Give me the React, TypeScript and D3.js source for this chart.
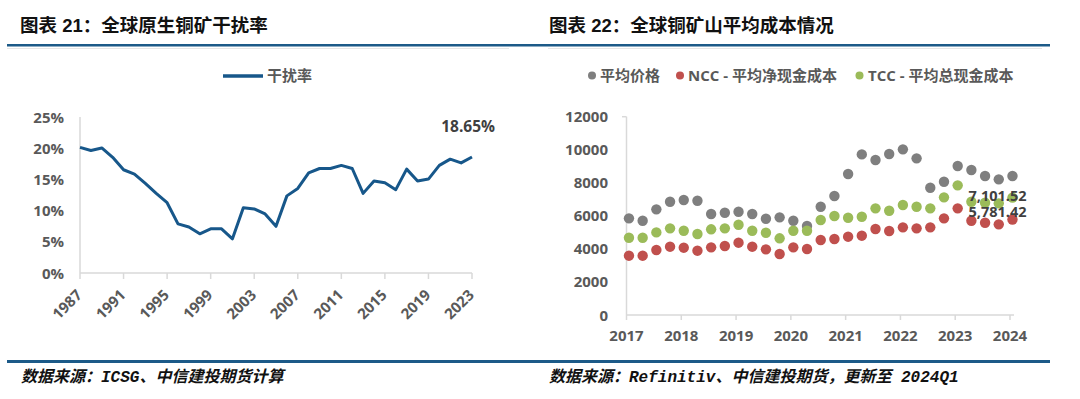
import React from "react";
import * as d3 from "d3";

// 图表 21：全球原生铜矿干扰率 (%)
const rateYears = d3.range(1987, 2024);
const interferenceRate = [
  20.2, 19.7, 20.1, 18.6, 16.6, 15.9, 14.4, 12.8, 11.3, 7.9, 7.4, 6.3, 7.1,
  7.1, 5.5, 10.5, 10.3, 9.5, 7.5, 12.4, 13.6, 16.1, 16.8, 16.8, 17.3, 16.8,
  12.8, 14.8, 14.5, 13.4, 16.7, 14.8, 15.1, 17.3, 18.3, 17.7, 18.65,
];
const rateTicks = [0, 5, 10, 15, 20, 25];
const rateYearTicks = [1987, 1991, 1995, 1999, 2003, 2007, 2011, 2015, 2019, 2023];

// 图表 22：全球铜矿山平均成本情况 (quarterly, 2017Q1 - 2024Q1)
const quarters = d3.range(2017, 2025).flatMap((y) => [1, 2, 3, 4].map((q) => ({ y, q }))).slice(0, 29);
const avgPrice = [
  5850, 5705, 6394, 6855, 6957, 6915, 6110, 6190, 6250, 6110, 5826, 5910, 5705,
  5384, 6552, 7200, 8530, 9720, 9377, 9740, 10024, 9479, 7700, 8065, 9014, 8772,
  8409, 8209, 8409,
];
const ncc = [
  3590, 3590, 3932, 4134, 4073, 3892, 4093, 4174, 4376, 4134, 3973, 3690, 4093,
  3993, 4537, 4598, 4739, 4800, 5203, 5082, 5303, 5243, 5303, 5850, 6455, 5705,
  5585, 5485, 5781.42,
];
const tcc = [
  4677, 4677, 5000, 5245, 5100, 4900, 5185, 5245, 5463, 5100, 4980, 4640, 5100,
  5100, 5747, 5990, 5887, 5947, 6455, 6310, 6655, 6552, 6455, 7120, 7846, 6855,
  6794, 6757, 7101.52,
];
const costTicks = [0, 2000, 4000, 6000, 8000, 10000, 12000];
const costYearTicks = [2017, 2018, 2019, 2020, 2021, 2022, 2023, 2024];

const BLUE = "#1c5a88";
const LINE = "#17578a";
const AXIS = "#d9d9d9";
const LABEL = "#595959";
const FONT = "'Open Sans', 'Noto Sans CJK SC', sans-serif";
const TITLE_FONT = "Arial, 'Liberation Sans', 'Noto Sans CJK SC', sans-serif";
const FOOT_FONT = "'Liberation Mono', 'Noto Sans CJK SC', monospace";

const costSeries = [
  { name: "平均价格", color: "#7f7f7f", values: avgPrice },
  { name: "NCC - 平均净现金成本", color: "#c0504d", values: ncc },
  { name: "TCC - 平均总现金成本", color: "#9bbb59", values: tcc },
];

const App = () => {
  // left chart scales
  const xL = d3.scaleLinear().domain([1987, 2023]).range([80, 472]);
  const yL = d3.scaleLinear().domain([0, 25]).range([273, 117.5]);
  const line = d3
    .line<number>()
    .x((_, i) => xL(rateYears[i]))
    .y((d) => yL(d));
  const lastRate = interferenceRate[interferenceRate.length - 1];

  // right chart scales
  const xR = d3.scaleLinear().domain([2017, 2024]).range([626.5, 1010]);
  const yR = d3.scaleLinear().domain([0, 12000]).range([315, 116.7]);
  const qx = (i: number) => xR(quarters[i].y + (quarters[i].q - 1) / 4 + 0.045);
  const lastI = quarters.length - 1;

  return (
    <svg
      width={1080}
      height={399}
      style={{ position: "absolute", left: 0, top: 0, background: "#fff" }}
    >
      {/* titles */}
      <text x={20} y={32} fontFamily={TITLE_FONT} fontWeight="bold" fontSize={18.5} fill="#111">
        图表 21：全球原生铜矿干扰率
      </text>
      <text x={549} y={32} fontFamily={TITLE_FONT} fontWeight="bold" fontSize={18.5} fill="#111">
        图表 22：全球铜矿山平均成本情况
      </text>
      <rect x={7} y={44} width={1043} height={2.5} fill={BLUE} />
      <rect x={7} y={48} width={502} height={1} fill="#e6e6e6" />
      <rect x={548} y={48} width={494} height={1} fill="#e6e6e6" />

      {/* left legend */}
      <line x1={223} x2={263} y1={76} y2={76} stroke={LINE} strokeWidth={3.5} />
      <text x={267} y={81} fontFamily={FONT} fontWeight="bold" fontSize={15} fill={LABEL}>
        干扰率
      </text>

      {/* left axes */}
      <line x1={80} x2={80} y1={117} y2={273} stroke={AXIS} strokeWidth={1.5} />
      <line x1={80} x2={472} y1={273} y2={273} stroke={AXIS} strokeWidth={1.5} />
      {rateTicks.map((t) => (
        <text
          key={t}
          x={64}
          y={yL(t) + 5.5}
          textAnchor="end"
          fontFamily={FONT}
          fontWeight="bold"
          fontSize={15}
          fill={LABEL}
        >
          {t}%
        </text>
      ))}
      {rateYearTicks.map((yr) => (
        <g key={yr}>
          <line x1={xL(yr)} x2={xL(yr)} y1={273} y2={279} stroke={AXIS} strokeWidth={1.5} />
          <text
            transform={`translate(${xL(yr) + 3},296) rotate(-45)`}
            textAnchor="end"
            fontFamily={FONT}
            fontWeight="bold"
            fontSize={15}
            fill={LABEL}
          >
            {yr}
          </text>
        </g>
      ))}
      <path d={line(interferenceRate) || ""} fill="none" stroke={LINE} strokeWidth={3} strokeLinejoin="round" />
      <text
        x={xL(2023) + 23}
        y={yL(lastRate) - 25}
        textAnchor="end"
        fontFamily={FONT}
        fontWeight="bold"
        fontSize={15.5}
        fill="#404040"
      >
        {lastRate.toFixed(2)}%
      </text>

      {/* right legend */}
      {[
        { cx: 592, tx: 600 },
        { cx: 680, tx: 688 },
        { cx: 859.5, tx: 868 },
      ].map((p, i) => (
        <g key={i}>
          <circle cx={p.cx} cy={75.5} r={4} fill={costSeries[i].color} />
          <text x={p.tx} y={81} fontFamily={FONT} fontWeight="bold" fontSize={15} fill={LABEL}>
            {costSeries[i].name}
          </text>
        </g>
      ))}

      {/* right axes */}
      <line x1={626.5} x2={626.5} y1={116.7} y2={315} stroke={AXIS} strokeWidth={1.5} />
      <line x1={622} x2={626.5} y1={116.7} y2={116.7} stroke={AXIS} strokeWidth={1.5} />
      <line x1={626.5} x2={1014} y1={315} y2={315} stroke={AXIS} strokeWidth={1.5} />
      {costTicks.map((t) => (
        <text
          key={t}
          x={608}
          y={yR(t) + 5.5}
          textAnchor="end"
          fontFamily={FONT}
          fontWeight="bold"
          fontSize={15}
          fill={LABEL}
        >
          {t}
        </text>
      ))}
      {costYearTicks.map((yr) => (
        <g key={yr}>
          <line x1={xR(yr)} x2={xR(yr)} y1={315} y2={320} stroke={AXIS} strokeWidth={1.5} />
          <text
            x={xR(yr)}
            y={341}
            textAnchor="middle"
            fontFamily={FONT}
            fontWeight="bold"
            fontSize={15}
            fill={LABEL}
          >
            {yr}
          </text>
        </g>
      ))}
      {costSeries.map((s) => (
        <g key={s.name}>
          {s.values.map((v, i) => (
            <circle key={i} cx={qx(i)} cy={yR(v)} r={5.2} fill={s.color} />
          ))}
        </g>
      ))}
      <text
        x={qx(lastI) - 44}
        y={yR(tcc[lastI]) + 3}
        fontFamily={FONT}
        fontWeight="bold"
        fontSize={14.5}
        fill="#404040"
      >
        {d3.format(",.2f")(tcc[lastI])}
      </text>
      <text
        x={qx(lastI) - 44}
        y={yR(ncc[lastI]) - 2.5}
        fontFamily={FONT}
        fontWeight="bold"
        fontSize={14.5}
        fill="#404040"
      >
        {d3.format(",.2f")(ncc[lastI])}
      </text>

      {/* footers */}
      <rect x={7} y={360} width={1043} height={3} fill={BLUE} />
      <text x={21} y={382} fontFamily={FOOT_FONT} fontStyle="italic" fontWeight="bold" fontSize={16} fill="#111">
        数据来源：ICSG、中信建投期货计算
      </text>
      <text x={549} y={382} fontFamily={FOOT_FONT} fontStyle="italic" fontWeight="bold" fontSize={16} fill="#111">
        数据来源：Refinitiv、中信建投期货，更新至 2024Q1
      </text>
    </svg>
  );
};

export default App;
